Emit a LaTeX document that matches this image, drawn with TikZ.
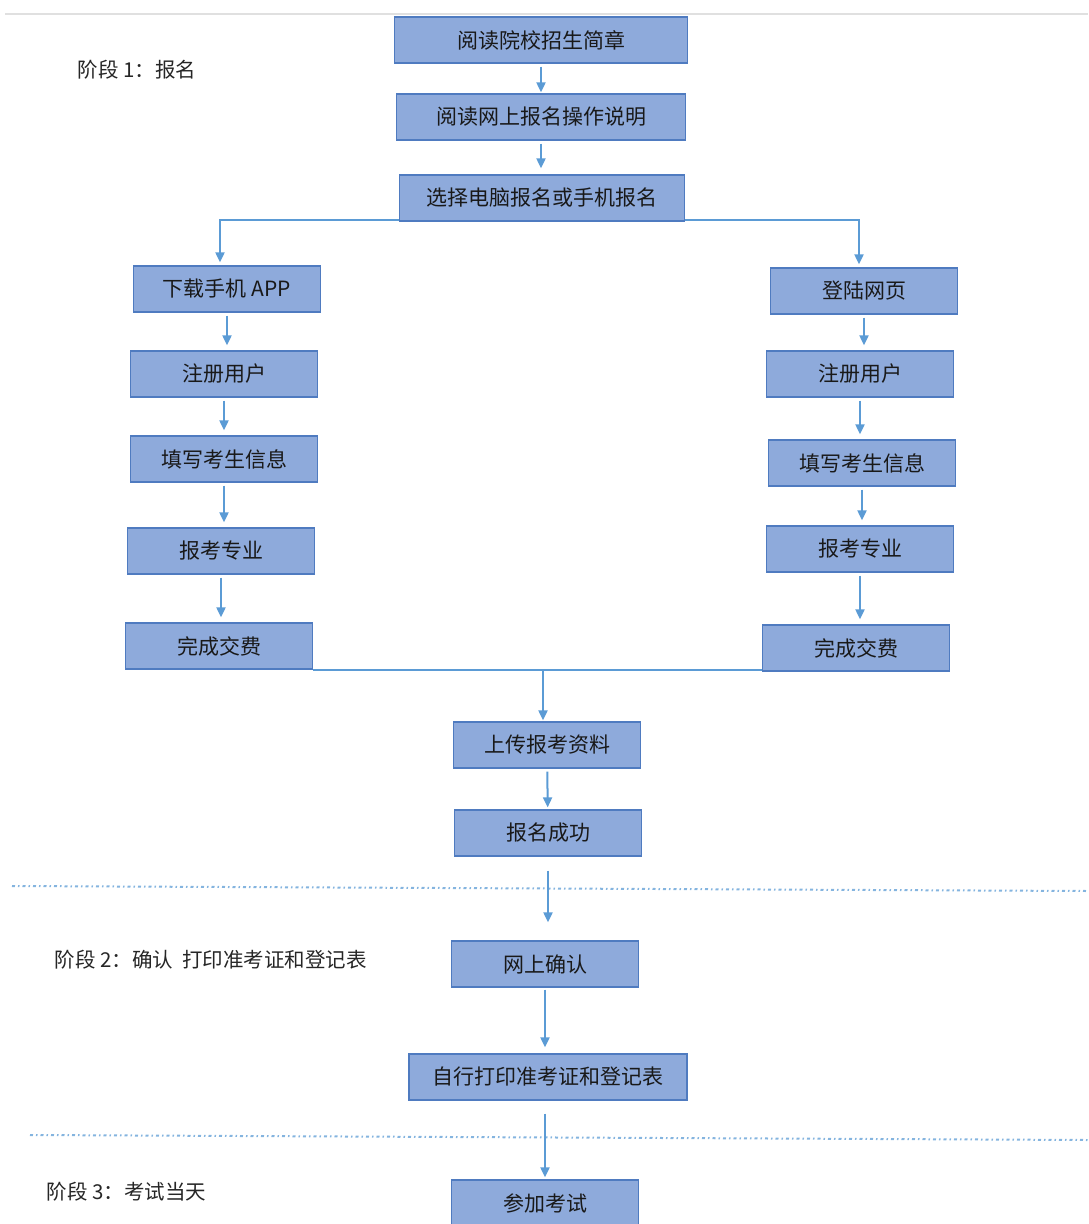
\documentclass[tikz,border=0pt]{standalone}
\usepackage{fontspec}
\setmainfont{Noto Sans CJK SC}
\usetikzlibrary{calc}
\usetikzlibrary{positioning}
\usetikzlibrary{arrows.meta}
\definecolor{boxfill}{HTML}{8EAADB}
\definecolor{boxline}{HTML}{4F7BC0}
\definecolor{flow}{HTML}{5B9BD5}
\tikzset{
	stepbox/.style={draw=boxline, line width=1.3pt, fill=boxfill,
		minimum width=187pt, minimum height=46pt, inner sep=0pt,
		font=\fontsize{21}{25}\selectfont, text=black!90},
	flowline/.style={draw=flow, line width=2pt,
		-{Triangle[length=10pt,width=9pt]}},
	stagelabel/.style={anchor=west, font=\fontsize{20.5}{24}\selectfont, text=black!85},
	sepline/.style={draw=flow!75, line width=2pt,
		dash pattern=on 3pt off 3pt on 1.5pt off 3pt}
}

\begin{document}
\begin{tikzpicture}[x=1pt,y=-1pt]
	\useasboundingbox (0,0) rectangle (1088,1224);
	\draw[black!12, line width=2pt] (5,14) -- (1088,14);

	% stage labels
	\node[stagelabel] (stage1) at (74,70) {阶段 1：报名};
	\node[stagelabel] (stage2) at (51,960) {阶段 2：确认\ \ 打印准考证和登记表};
	\node[stagelabel] (stage3) at (43,1192) {阶段 3：考试当天};

	% common steps
	\node[stepbox, minimum width=293pt] (read) at (541,40) {阅读院校招生简章};
	\node[stepbox, minimum width=289pt] (guide) at (541,117) {阅读网上报名操作说明};
	\node[stepbox, minimum width=285pt] (choose) at (542,198) {选择电脑报名或手机报名};

	% phone
	\node[stepbox] (app) at (227,289) {下载手机 APP};
	\node[stepbox] (lreg) at (224,374) {注册用户};
	\node[stepbox] (linfo) at (224,459) {填写考生信息};
	\node[stepbox] (lmajor) at (221,551) {报考专业};
	\node[stepbox] (lpay) at (219,646) {完成交费};

	% web
	\node[stepbox] (web) at (864,291) {登陆网页};
	\node[stepbox] (rreg) at (860,374) {注册用户};
	\node[stepbox] (rinfo) at (862,463) {填写考生信息};
	\node[stepbox] (rmajor) at (860,549) {报考专业};
	\node[stepbox] (rpay) at (856,648) {完成交费};

	\node[stepbox] (upload) at (547,745) {上传报考资料};
	\node[stepbox] (success) at (548,833) {报名成功};
	\node[stepbox] (confirm) at (545,964) {网上确认};
	\node[stepbox, minimum width=278pt] (print) at (548,1077) {自行打印准考证和登记表};
	\node[stepbox] (exam) at (545,1203) {参加考试};

	% separators
	\draw[sepline] (12,886) -- (1088,891);
	\draw[sepline] (30,1135) -- (1088,1140);

	% arrows
	\draw[flowline, shorten <=3pt, shorten >=1pt] (read) -- (guide);
	\draw[flowline, shorten <=3pt, shorten >=6pt] (guide) -- (guide |- choose.north);
	\draw[flowline] ($(choose.south west)+(0,-2)$) -| ($(app.north)+(-7,-3)$);
	\draw[flowline] ($(choose.south east)+(0,-2)$) -| ($(web.north)+(-5,-3)$);
	\foreach \a/\b in {app/lreg,lreg/linfo,linfo/lmajor,lmajor/lpay,
		web/rreg,rreg/rinfo,rinfo/rmajor,rmajor/rpay}
		\draw[flowline, shorten <=3pt, shorten >=5pt] (\a) -- (\a |- \b.north);
	\draw[draw=flow, line width=2pt] (lpay.south east) -- (lpay.south east -| rpay.west);
	\draw[flowline, shorten >=1pt] ($(lpay.south -| upload.north)+(-4,0)$) -- ($(upload.north)+(-4,0)$);
	\draw[flowline, shorten <=3pt, shorten >=2pt] (upload) -- (success);
	\draw[flowline, shorten <=14pt, shorten >=18pt] (success) -- (success |- confirm.north);
	\draw[flowline, shorten <=2pt, shorten >=6pt] (confirm) -- (confirm |- print.north);
	\draw[flowline, shorten <=13pt, shorten >=2pt] (print.south -| exam.north) -- (exam.north);
\end{tikzpicture}
\end{document}
